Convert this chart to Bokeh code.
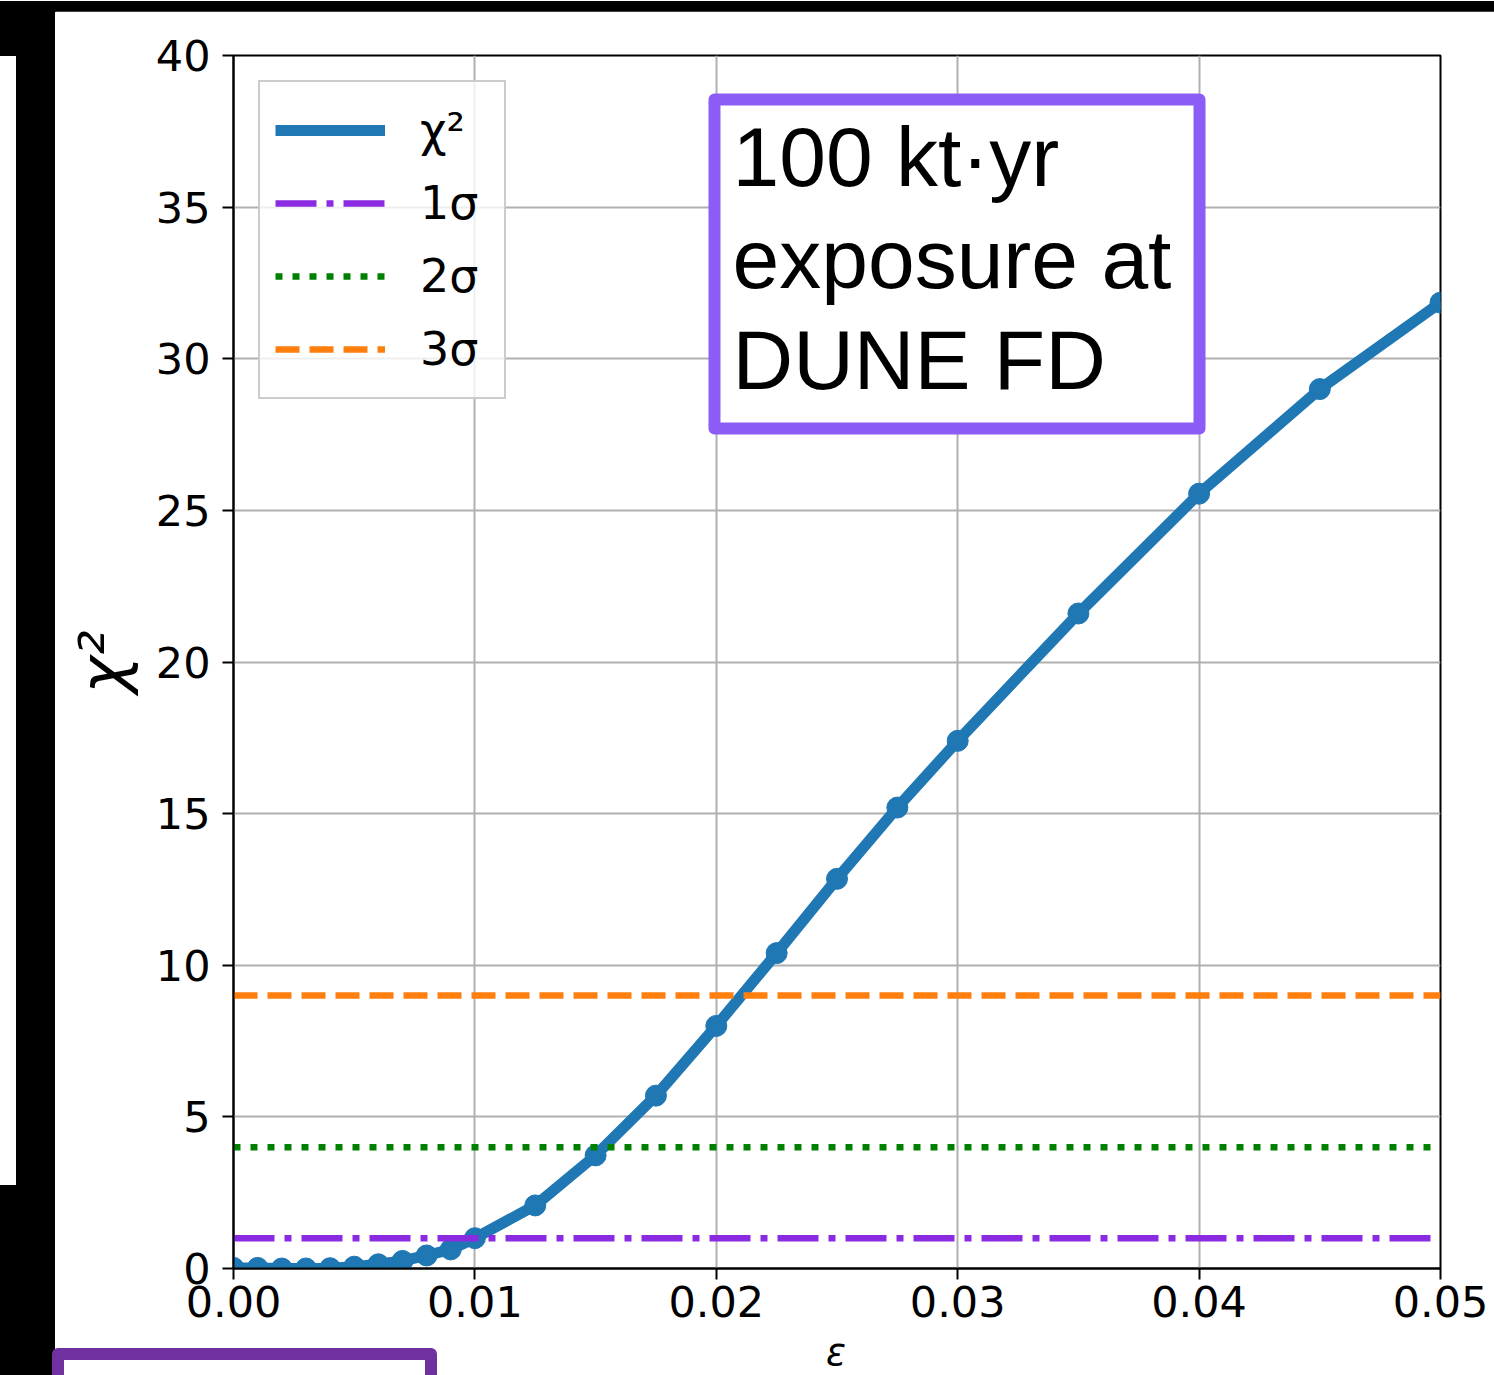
from bokeh.plotting import figure
from bokeh.models import Range1d, FixedTicker, Legend, LegendItem, Div
from bokeh.layouts import column, row
from bokeh.core.properties import value
from bokeh.embed import file_html
from bokeh.resources import INLINE

# ---------------- data ----------------
EPS = [0.0, 0.001, 0.002, 0.003, 0.004, 0.005, 0.006, 0.007, 0.008, 0.009,
       0.010, 0.0125, 0.015, 0.0175, 0.020, 0.0225, 0.025, 0.0275, 0.030,
       0.035, 0.040, 0.045, 0.050]
CHI2 = [0.02, 0.02, 0.0, 0.0, 0.01, 0.06, 0.14, 0.25, 0.43, 0.63,
        1.0, 2.08, 3.73, 5.7, 8.0, 10.4, 12.85, 15.2, 17.4,
        21.6, 25.55, 29.0, 31.85]
SIGMA_LABELS = ["1σ", "2σ", "3σ"]
SIGMA_CHI2 = [1, 4, 9]
X_TICKS = [0.0, 0.01, 0.02, 0.03, 0.04, 0.05]
X_TICK_LABELS = ["0.00", "0.01", "0.02", "0.03", "0.04", "0.05"]
Y_TICKS = [0, 5, 10, 15, 20, 25, 30, 35, 40]
BOX_LINES = ["100 kt·yr", "exposure at", "DUNE FD"]
X_LABEL = "ε"
Y_LABEL = "χ²"

# ---------------- styles ----------------
BLUE = "#1f77b4"
SIGMA_COLORS = ["#8a2be2", "#008000", "#ff7f0e"]
SIGMA_DASH = ["41 10 7 10", "7 10", "24 10"]
TICK_FONT = "DejaVu Sans"

PAGE_W = 1494
PAGE_H = 1375
TOP_H = 11
LEFT_W = 55
FIG_W = PAGE_W - LEFT_W
FIG_H = 1320
BOTTOM_H = PAGE_H - TOP_H - FIG_H

p = figure(width=FIG_W, height=FIG_H,
           x_range=Range1d(0, 0.05), y_range=Range1d(0, 40),
           output_backend="svg", toolbar_location=None,
           min_border_left=178, min_border_right=54,
           min_border_top=44, min_border_bottom=63,
           background_fill_color="white", border_fill_color="white")

p.outline_line_color = "black"
p.outline_line_width = 2
p.grid.grid_line_color = "#b0b0b0"
p.grid.grid_line_width = 2

p.xaxis.ticker = FixedTicker(ticks=X_TICKS)
p.xaxis.major_label_overrides = {t: l for t, l in zip(X_TICKS, X_TICK_LABELS)}
p.yaxis.ticker = FixedTicker(ticks=Y_TICKS)
p.xgrid.ticker = FixedTicker(ticks=X_TICKS)
p.ygrid.ticker = FixedTicker(ticks=Y_TICKS)

for ax in (p.xaxis, p.yaxis):
    ax.axis_line_width = 2
    ax.axis_line_color = "black"
    ax.major_tick_line_width = 2
    ax.major_tick_out = 11
    ax.major_tick_in = 0
    ax.minor_tick_line_color = None
    ax.major_label_text_font = TICK_FONT
    ax.major_label_text_font_size = "43px"
    ax.major_label_text_color = "black"
p.xaxis.major_label_standoff = 6
p.yaxis.major_label_standoff = 12

p.yaxis.axis_label = Y_LABEL
p.yaxis.axis_label_text_font = TICK_FONT
p.yaxis.axis_label_text_font_size = "64px"
p.yaxis.axis_label_text_font_style = "italic"
p.yaxis.axis_label_text_color = "black"
p.yaxis.axis_label_standoff = 13

# main curve
r_chi = p.line(EPS, CHI2, line_color=BLUE, line_width=11, line_join="round")
p.scatter(EPS, CHI2, size=21, fill_color=BLUE, line_color=BLUE)

# significance levels
sig_renderers = []
for lvl, col, dash in zip(SIGMA_CHI2, SIGMA_COLORS, SIGMA_DASH):
    r = p.line([EPS[0], EPS[-1]], [lvl, lvl], line_color=col, line_width=6.5,
               line_dash=dash, line_cap="butt")
    sig_renderers.append(r)

# annotation box
p.quad(left=0.019925, right=0.040017, bottom=27.70, top=38.55,
       fill_color="white", line_color="#8b5cf6", line_width=12, line_join="round")
p.text(x=[0.020671] * 3, y=[36.665, 33.305, 29.975], text=BOX_LINES,
       text_font=value("Liberation Sans"), text_font_size="84px",
       text_color="black", text_baseline="alphabetic", text_align="left")

legend = Legend(
    items=[LegendItem(label="χ²", renderers=[r_chi])] +
          [LegendItem(label=l, renderers=[r]) for l, r in zip(SIGMA_LABELS, sig_renderers)],
    location="top_left", margin=25, padding=15,
    glyph_width=110, glyph_height=66, label_height=66, label_width=69, spacing=7,
    label_standoff=35, label_text_font=TICK_FONT, label_text_font_size="46px",
    label_text_color="black",
    border_line_color="#cccccc", border_line_width=2, border_line_alpha=1.0,
    background_fill_color="white", background_fill_alpha=0.8,
)
p.add_layout(legend)

# surrounding slide context of the cropped screenshot
box_top = 1348 - (TOP_H + FIG_H)
top_strip = Div(width=PAGE_W, height=TOP_H, margin=0,
                text=f'<div style="width:{PAGE_W}px;height:{TOP_H}px;background:black"></div>')
left_strip = Div(width=LEFT_W, height=FIG_H, margin=0,
                 text=(f'<div style="position:relative;width:{LEFT_W}px;height:{FIG_H}px;background:black">'
                       '<div style="position:absolute;left:0;top:45px;width:16px;height:1129px;background:white"></div>'
                       '</div>'))
bottom_strip = Div(width=PAGE_W, height=BOTTOM_H, margin=0,
                   text=(f'<div style="position:relative;box-sizing:border-box;width:{PAGE_W}px;height:{BOTTOM_H}px;background:white;overflow:hidden">'
                         f'<div style="position:absolute;left:0;top:0;width:{LEFT_W}px;height:{BOTTOM_H}px;background:black"></div>'
                         f'<div style="position:absolute;box-sizing:border-box;left:52px;top:{box_top}px;width:385px;height:60px;'
                         'border:12px solid #7030a0;border-radius:6px;background:white"></div>'
                         '<div style="position:absolute;left:826px;top:0;font-family:\'DejaVu Sans\';font-style:italic;'
                         f'font-size:37px;line-height:{BOTTOM_H}px;color:black">{X_LABEL}</div>'
                         '</div>'))

layout = column(top_strip, row(left_strip, p, spacing=0), bottom_strip, spacing=0)

open("out.html", "w").write(file_html(layout, INLINE))
